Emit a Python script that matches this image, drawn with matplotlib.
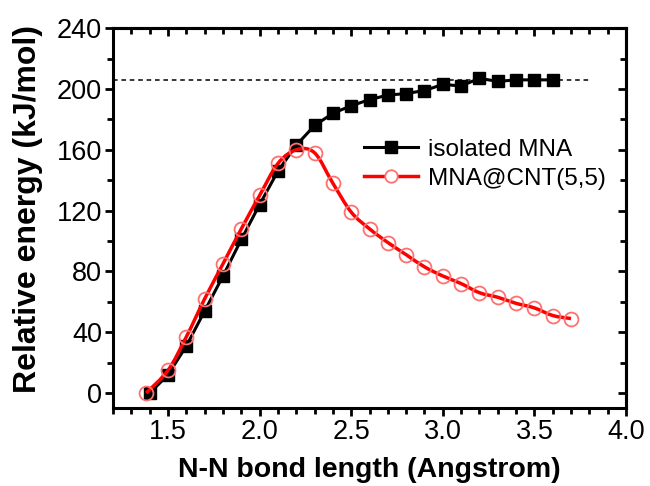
import numpy as np
import matplotlib
matplotlib.use("Agg")
import matplotlib.pyplot as plt
from matplotlib.path import Path
from matplotlib.patches import PathPatch
from matplotlib.lines import Line2D
from matplotlib.ticker import MultipleLocator

plt.rcParams['font.family'] = ['Liberation Sans', 'DejaVu Sans']

# data
x_iso = [1.4, 1.5, 1.6, 1.7, 1.8, 1.9, 2.0, 2.1, 2.2, 2.3, 2.4, 2.5,
         2.6, 2.7, 2.8, 2.9, 3.0, 3.1, 3.2, 3.3, 3.4, 3.5, 3.6]
e_iso = [0, 12, 31, 54, 77, 101, 124, 146, 163, 176, 184, 189,
         193, 196, 197, 199, 203, 202, 207, 205, 206, 206, 206]

x_cnt = [1.38, 1.5, 1.6, 1.7, 1.8, 1.9, 2.0, 2.1, 2.2, 2.3, 2.4, 2.5,
         2.6, 2.7, 2.8, 2.9, 3.0, 3.1, 3.2, 3.3, 3.4, 3.5, 3.6, 3.7]
e_cnt = [0, 15, 37, 62, 85, 108, 130, 151, 160, 158, 138, 119,
         108, 99, 91, 83, 77, 72, 66, 63, 59, 56, 51, 49]

dissoc_level = 206
dissoc_end = 3.8

fig = plt.figure(figsize=(6.5, 4.86), dpi=100)
ax = fig.add_axes([0.174, 0.160, 0.789, 0.782])

# dashed dissociation limit
ax.plot([1.2, dissoc_end], [dissoc_level, dissoc_level], ls=(0, (3, 2.5)),
        color='black', lw=1.1, zorder=1)

# isolated MNA
ax.plot(x_iso, e_iso, color='black', lw=2.2, marker='s', ms=8,
        mfc='black', mec='black', zorder=3)

# MNA@CNT(5,5): smooth line (Catmull-Rom as bezier) + open circles
p = np.column_stack([x_cnt, e_cnt])
verts = [tuple(p[0])]
codes = [Path.MOVETO]
n = len(p)
for i in range(n - 1):
    p0 = p[max(i - 1, 0)]
    p1 = p[i]
    p2 = p[i + 1]
    p3 = p[min(i + 2, n - 1)]
    c1 = p1 + (p2 - p0) / 6.0
    c2 = p2 - (p3 - p1) / 6.0
    verts += [tuple(c1), tuple(c2), tuple(p2)]
    codes += [Path.CURVE4] * 3
ax.add_patch(PathPatch(Path(verts, codes), fc='none', ec='red', lw=2.5, zorder=4))
ax.plot(x_cnt, e_cnt, ls='none', marker='o', ms=10, mfc='none',
        mec='#ff7070', mew=1.3, zorder=5)

ax.set_xlim(1.2, 4.0)
ax.set_ylim(-10, 240)
ax.xaxis.set_major_locator(MultipleLocator(0.5))
ax.xaxis.set_minor_locator(MultipleLocator(0.1))
ax.yaxis.set_major_locator(MultipleLocator(40))
ax.yaxis.set_minor_locator(MultipleLocator(20))
ax.set_xticks([1.5, 2.0, 2.5, 3.0, 3.5, 4.0])
ax.set_xticklabels(['1.5', '2.0', '2.5', '3.0', '3.5', '4.0'])

ax.tick_params(which='both', direction='out', width=2, labelsize=19.5,
               top=False, right=False)
ax.tick_params(which='major', length=6, pad=2)
ax.tick_params(which='minor', length=4)
for s in ax.spines.values():
    s.set_linewidth(2.2)

# inward ticks on top and right
sec_x = ax.secondary_xaxis('top')
sec_x.xaxis.set_major_locator(MultipleLocator(0.5))
sec_x.xaxis.set_minor_locator(MultipleLocator(0.1))
sec_x.tick_params(which='both', direction='in', width=2, labeltop=False)
sec_x.tick_params(which='major', length=6)
sec_x.tick_params(which='minor', length=4)
sec_x.spines['top'].set_linewidth(2.2)
sec_y = ax.secondary_yaxis('right')
sec_y.yaxis.set_major_locator(MultipleLocator(40))
sec_y.yaxis.set_minor_locator(MultipleLocator(20))
sec_y.tick_params(which='both', direction='in', width=2, labelright=False)
sec_y.tick_params(which='major', length=6)
sec_y.tick_params(which='minor', length=4)
sec_y.spines['right'].set_linewidth(2.2)

ax.set_xlabel('N-N bond length (Angstrom)', fontsize=20.5, fontweight='bold')
ax.set_ylabel('Relative energy (kJ/mol)', fontsize=23, fontweight='bold')
ax.xaxis.set_label_coords(0.5, -0.128)
ax.yaxis.set_label_coords(-0.136, 0.524)

handles = [
    Line2D([], [], color='black', lw=2.2, marker='s', ms=8),
    Line2D([], [], color='red', lw=2.5, marker='o', ms=9, mfc='white',
           mec='#ff7070', mew=1.3),
]
ax.legend(handles, ['isolated MNA', 'MNA@CNT(5,5)'], loc='center left',
          bbox_to_anchor=(0.49, 0.642), frameon=False, fontsize=17.5,
          handlelength=2.2, handletextpad=0.4, labelspacing=0.3,
          borderpad=0, borderaxespad=0)

fig.savefig('out.png', dpi=100)
